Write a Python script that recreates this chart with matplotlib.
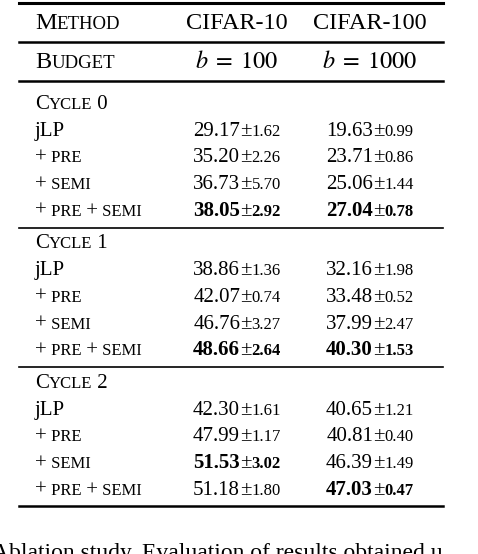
import matplotlib
matplotlib.use("Agg")
import matplotlib.pyplot as plt

plt.rcParams["font.family"] = ["Liberation Serif", "DejaVu Serif"]
plt.rcParams["mathtext.fontset"] = "stix"

columns = ["CIFAR-10", "CIFAR-100"]
budgets = ["$b\\;=\\;100$", "$b\\;=\\;1000$"]
cycles = ["0", "1", "2"]
methods = ["jLP", "+ PRE", "+ SEMI", "+ PRE + SEMI"]
# mean, std per cycle, per method, per dataset
cifar10_mean = [[29.17, 35.20, 36.73, 38.05], [38.86, 42.07, 46.76, 48.66], [42.30, 47.99, 51.53, 51.18]]
cifar10_std = [[1.62, 2.26, 5.70, 2.92], [1.36, 0.74, 3.27, 2.64], [1.61, 1.17, 3.02, 1.80]]
cifar100_mean = [[19.63, 23.71, 25.06, 27.04], [32.16, 33.48, 37.99, 40.30], [40.65, 40.81, 46.39, 47.03]]
cifar100_std = [[0.99, 0.86, 1.44, 0.78], [1.98, 0.52, 2.47, 1.53], [1.21, 0.40, 1.49, 0.47]]
caption = "Ablation study. Evaluation of results obtained u"

W, H = 478, 554
fig = plt.figure(figsize=(W / 100, H / 100), dpi=100)
fig.patch.set_facecolor("white")
renderer = fig.canvas.get_renderer()

BIG, BODY, SMALL, STD = 17.5, 15, 12, 12


def fy(y):
    return 1 - y / H


def pieces_text(x, y, pieces, ha="left"):
    # pieces: list of (text, size, weight); laid out left to right
    arts = []
    cur = x
    for s, size, weight in pieces:
        t = fig.text(cur / W, fy(y), s, fontsize=size, fontweight=weight,
                     va="baseline", ha="left")
        bb = t.get_window_extent(renderer)
        arts.append(t)
        cur += bb.width
    if ha == "center":
        shift = (cur - x) / 2
        for t in arts:
            px, py = t.get_position()
            t.set_x(px - shift / W)


def smallcaps(word, big, small, weight="normal"):
    return [(word[0], big, weight), (word[1:].upper(), small, weight)]


def method_pieces(m):
    out = []
    for i, tok in enumerate(m.split(" ")):
        sep = " " if i else ""
        if tok in ("+", "jLP"):
            out.append((sep + tok, BODY, "normal"))
        else:
            out.append((sep + tok, SMALL, "normal"))
    return out


def rule(y, lw):
    fig.add_artist(plt.Line2D([19 / W, 443 / W], [fy(y), fy(y)], color="black", lw=lw))


X0, XC1, XC2 = 35, 237, 370
rule(3, 2.2)
pieces_text(X0, 29, smallcaps("Method", BIG, 13.5))
for xc, c in zip([XC1, XC2], columns):
    pieces_text(xc, 29, [(c, BIG, "normal")], ha="center")
rule(42, 1.8)
pieces_text(X0, 68, smallcaps("Budget", BIG, 13.5))
for xc, b in zip([XC1, XC2], budgets):
    pieces_text(xc, 68, [(b, BIG, "normal")], ha="center")
rule(81, 1.8)

y = 109
for ci, cyc in enumerate(cycles):
    pieces_text(X0, y, smallcaps("Cycle", BODY, 12) + [(" " + cyc, BODY, "normal")])
    y += 26.7
    best10 = max(range(4), key=lambda k: cifar10_mean[ci][k])
    best100 = max(range(4), key=lambda k: cifar100_mean[ci][k])
    for mi, m in enumerate(methods):
        pieces_text(X0, y, method_pieces(m))
        for xc, means, stds, best in [(XC1, cifar10_mean, cifar10_std, best10),
                                      (XC2, cifar100_mean, cifar100_std, best100)]:
            w = "bold" if mi == best else "normal"
            pieces_text(xc, y, [(f"{means[ci][mi]:.2f}", BODY, w), ("±", BODY, "normal"),
                                (f"{stds[ci][mi]:.2f}", STD, w)], ha="center")
        y += 26.7
    y -= 26.7
    if ci < 2:
        rule(y + 12, 1.2)
        y += 32.7
rule(506, 1.8)
fig.text(-8 / W, fy(559), caption, fontsize=17, va="baseline", ha="left")

fig.savefig("out.png", dpi=100)
